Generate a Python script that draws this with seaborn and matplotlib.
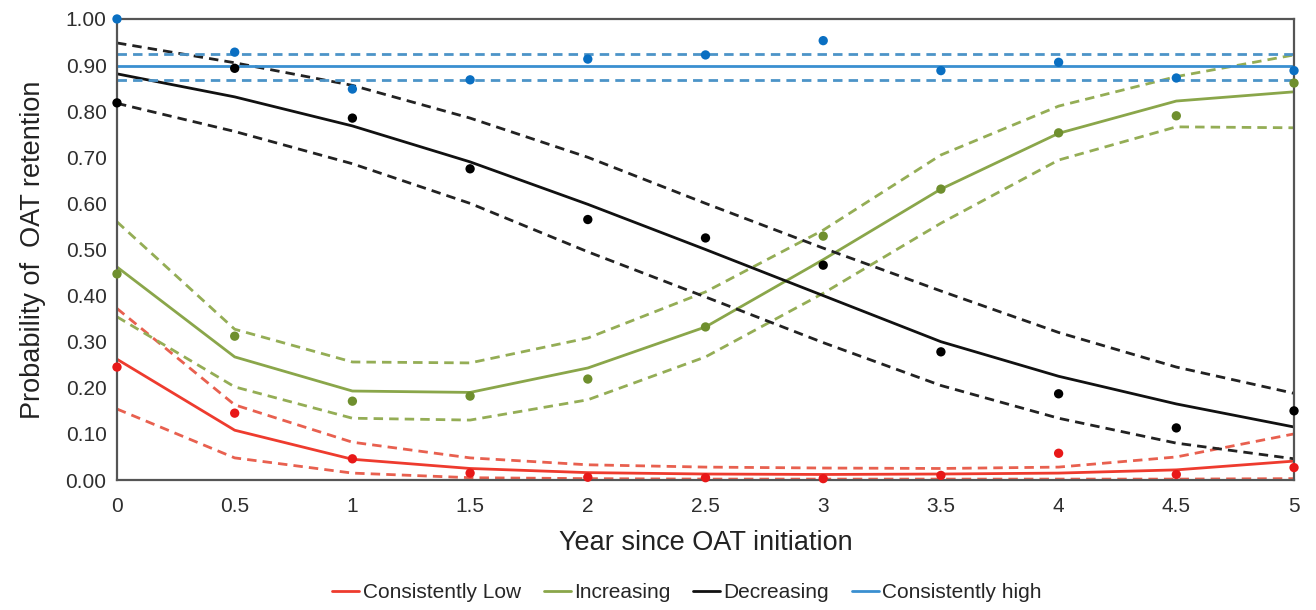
import numpy as np
import pandas as pd
import seaborn as sns
import matplotlib.pyplot as plt

years = [0, 0.5, 1, 1.5, 2, 2.5, 3, 3.5, 4, 4.5, 5]

# observed proportions (dots)
low_obs = [0.245, 0.145, 0.046, 0.015, 0.006, 0.005, 0.003, 0.010, 0.058, 0.012, 0.027]
inc_obs = [0.447, 0.312, 0.171, 0.182, 0.219, 0.332, 0.529, 0.631, 0.753, 0.790, 0.861]
dec_obs = [0.818, 0.893, 0.785, 0.675, 0.565, 0.525, 0.466, 0.278, 0.187, 0.113, 0.150]
high_obs = [1.000, 0.928, 0.848, 0.868, 0.913, 0.922, 0.953, 0.888, 0.906, 0.872, 0.888]

# fitted trajectories
low_fit = [0.262, 0.108, 0.045, 0.025, 0.016, 0.013, 0.012, 0.013, 0.015, 0.022, 0.041]
inc_fit = [0.462, 0.267, 0.193, 0.190, 0.243, 0.332, 0.478, 0.631, 0.752, 0.822, 0.842]
dec_fit = [0.881, 0.831, 0.768, 0.690, 0.598, 0.500, 0.400, 0.300, 0.225, 0.165, 0.115]
high_fit = [0.898] * 11

# confidence bands
low_hi = [0.372, 0.163, 0.082, 0.048, 0.033, 0.028, 0.026, 0.025, 0.028, 0.050, 0.100]
low_lo = [0.154, 0.048, 0.015, 0.005, 0.003, 0.002, 0.002, 0.002, 0.002, 0.002, 0.003]
inc_hi = [0.560, 0.327, 0.256, 0.254, 0.308, 0.408, 0.542, 0.705, 0.811, 0.875, 0.922]
inc_lo = [0.354, 0.202, 0.134, 0.130, 0.174, 0.267, 0.405, 0.557, 0.694, 0.766, 0.764]
dec_hi = [0.948, 0.905, 0.856, 0.785, 0.700, 0.600, 0.503, 0.410, 0.320, 0.245, 0.188]
dec_lo = [0.817, 0.756, 0.686, 0.600, 0.495, 0.397, 0.298, 0.205, 0.134, 0.080, 0.046]
high_hi = [0.924] * 11
high_lo = [0.868] * 11

groups = ["Consistently Low", "Increasing", "Decreasing", "Consistently high"]
line_colors = ["#EE3B2E", "#8AA64A", "#111111", "#3A8FD0"]
dash_colors = ["#E8604F", "#94AD55", "#222222", "#4C94C8"]
dot_colors = ["#E81818", "#6F8F2E", "#000000", "#0A6FC2"]

obs = [low_obs, inc_obs, dec_obs, high_obs]
fits = [low_fit, inc_fit, dec_fit, high_fit]
his = [low_hi, inc_hi, dec_hi, high_hi]
los = [low_lo, inc_lo, dec_lo, high_lo]

sns.set_style("white")
plt.rcParams['font.family'] = ['Liberation Sans', 'DejaVu Sans']

fig = plt.figure(figsize=(13.16, 6.10), dpi=100)
ax = fig.add_axes([0.0889, 0.2131, 0.8944, 0.7558])

for i, g in enumerate(groups):
    df = pd.DataFrame({"year": years, "obs": obs[i], "fit": fits[i],
                       "hi": his[i], "lo": los[i]})
    sns.lineplot(data=df, x="year", y="hi", ax=ax, color=dash_colors[i],
                 linestyle=(0, (3.4, 2.2)), linewidth=2.0)
    sns.lineplot(data=df, x="year", y="lo", ax=ax, color=dash_colors[i],
                 linestyle=(0, (3.4, 2.2)), linewidth=2.0)
    sns.lineplot(data=df, x="year", y="fit", ax=ax, color=line_colors[i],
                 linewidth=2.0, label=g)
    sns.scatterplot(data=df, x="year", y="obs", ax=ax, color=dot_colors[i],
                    s=45, edgecolor="none", zorder=5, clip_on=False)

ax.set_xlim(0, 5)
ax.set_ylim(0, 1)
ax.set_xticks(np.arange(0, 5.01, 0.5))
ax.set_xticklabels(["0", "0.5", "1", "1.5", "2", "2.5", "3", "3.5", "4", "4.5", "5"])
ax.set_yticks(np.arange(0, 1.01, 0.1))
ax.set_yticklabels([f"{v:.2f}" for v in np.arange(0, 1.01, 0.1)])
ax.tick_params(axis="both", labelsize=15, colors="#444444", direction="out",
               length=4, width=1.2, labelcolor="#2e2e2e")
ax.tick_params(axis="x", pad=8)

for s in ax.spines.values():
    s.set_color("#555555")
    s.set_linewidth(1.6)

ax.set_xlabel("Year since OAT initiation", fontsize=19.5, color="#222222", labelpad=10)
ax.set_ylabel("Probability of  OAT retention", fontsize=19.5, color="#222222", labelpad=14)

handles, labels = ax.get_legend_handles_labels()
ax.get_legend().remove()
fig.legend(handles, labels, loc="center", bbox_to_anchor=(0.522, 0.028), ncol=4,
           frameon=False, fontsize=15, handlelength=1.3, handletextpad=0.15,
           columnspacing=1.1)

fig.savefig("out.png", dpi=100)
